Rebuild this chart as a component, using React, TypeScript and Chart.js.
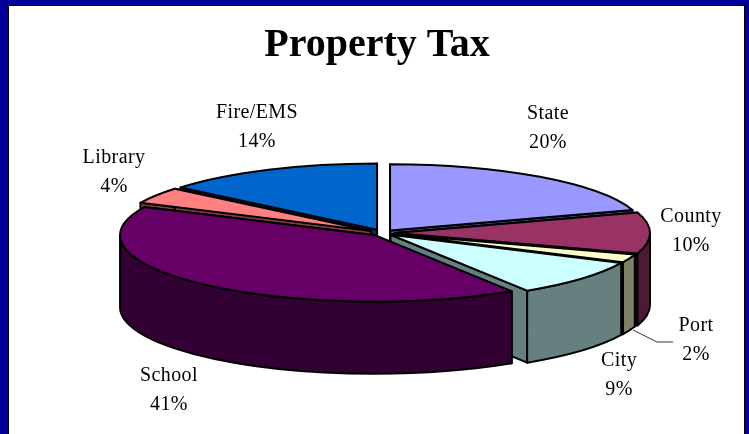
import React, { useEffect, useRef } from "react";
import { Chart, registerables } from "chart.js";

Chart.register(...registerables);

const categories = ["State", "County", "Port", "City", "School", "Library", "Fire/EMS"];
const shares = [20, 10, 2, 9, 41, 4, 14];
const topColors = ["#9999FF", "#993366", "#FFFFCC", "#CCFFFF", "#660066", "#FF8080", "#0066CC"];
const sideColors = ["#4D4D80", "#4D1A33", "#808066", "#668080", "#330033", "#804040", "#003366"];
const explode = [12, 12, 10, 10, 12, 14, 14];
const paintOrder = [0, 6, 5, 1, 2, 3, 4];
const labelCentres = [
  [548, 114], [691, 217], [696, 326], [619, 361], [169, 376], [114, 158], [257, 113],
];

const FONT = '"Liberation Serif", "Times New Roman", serif';
const CX = 383;
const CY = 233;
const TILT = 0.26;
const DEPTH = 72;
const LINE_GAP = 28.5;

const pie3d = {
  id: "pie3d",
  beforeDraw(chart: any) {
    const { ctx, width, height } = chart;
    ctx.save();
    ctx.fillStyle = "#000099";
    ctx.fillRect(0, 0, width, height);
    ctx.fillStyle = "#000000";
    ctx.fillRect(8, 5, width - 12, height - 5);
    ctx.fillStyle = "#FFFFFF";
    ctx.fillRect(9, 6, width - 14, height - 6);
    ctx.restore();
  },
  beforeDatasetDraw() {
    return false;
  },
  afterDatasetsDraw(chart: any) {
    const { ctx } = chart;
    const arcs = chart.getDatasetMeta(0).data;
    ctx.save();
    ctx.lineWidth = 2;
    ctx.lineJoin = "round";
    ctx.strokeStyle = "#000000";
    for (const i of paintOrder) {
      const arc = arcs[i];
      const a0 = arc.startAngle;
      const a1 = arc.endAngle;
      const rx = arc.outerRadius;
      const ry = rx * TILT;
      const mid = (a0 + a1) / 2;
      const ox = CX + Math.cos(mid) * explode[i];
      const oy = CY + Math.sin(mid) * explode[i] * TILT;
      const fillPath = (color: string) => {
        ctx.fillStyle = color;
        ctx.fill();
        ctx.stroke();
      };
      for (const a of [a0, a1]) {
        ctx.beginPath();
        ctx.moveTo(ox, oy);
        ctx.lineTo(ox + Math.cos(a) * rx, oy + Math.sin(a) * ry);
        ctx.lineTo(ox + Math.cos(a) * rx, oy + Math.sin(a) * ry + DEPTH);
        ctx.lineTo(ox, oy + DEPTH);
        ctx.closePath();
        fillPath(sideColors[i]);
      }
      const lo = Math.max(a0, 0);
      const hi = Math.min(a1, Math.PI);
      if (hi > lo) {
        ctx.beginPath();
        ctx.ellipse(ox, oy, rx, ry, 0, lo, hi);
        ctx.lineTo(ox + Math.cos(hi) * rx, oy + Math.sin(hi) * ry + DEPTH);
        ctx.ellipse(ox, oy + DEPTH, rx, ry, 0, hi, lo, true);
        ctx.closePath();
        fillPath(sideColors[i]);
      }
      ctx.beginPath();
      ctx.moveTo(ox, oy);
      ctx.ellipse(ox, oy, rx, ry, 0, a0, a1);
      ctx.closePath();
      fillPath(topColors[i]);
    }

    ctx.strokeStyle = "#333333";
    ctx.lineWidth = 1;
    ctx.beginPath();
    ctx.moveTo(633, 330);
    ctx.lineTo(657, 342);
    ctx.lineTo(673, 342);
    ctx.stroke();

    ctx.fillStyle = "#000000";
    ctx.font = `20px ${FONT}`;
    (ctx as any).letterSpacing = "0.4px";
    ctx.textAlign = "center";
    ctx.textBaseline = "middle";
    categories.forEach((name, i) => {
      const [x, y] = labelCentres[i];
      ctx.fillText(name, x, y);
      ctx.fillText(`${shares[i]}%`, x, y + LINE_GAP);
    });
    (ctx as any).letterSpacing = "0px";
    ctx.restore();
  },
};

export default function App() {
  const ref = useRef<HTMLCanvasElement>(null);
  useEffect(() => {
    document.body.style.margin = "0";
    const chart = new Chart(ref.current!, {
      type: "pie",
      data: {
        labels: categories,
        datasets: [
          {
            data: shares,
            backgroundColor: topColors,
            borderColor: "#000000",
            borderWidth: 2,
            radius: 255,
          } as any,
        ],
      },
      options: {
        responsive: false,
        animation: false,
        layout: { padding: { left: 5 } },
        events: [],
        plugins: {
          legend: { display: false },
          tooltip: { enabled: false },
          title: {
            display: true,
            text: "Property Tax",
            color: "#000000",
            font: { family: FONT, size: 40, weight: "bold" },
            padding: { top: 22, bottom: 10 },
          },
        },
      },
      plugins: [pie3d],
    });
    return () => chart.destroy();
  }, []);
  return <canvas ref={ref} width={749} height={434} style={{ display: "block" }} />;
}
